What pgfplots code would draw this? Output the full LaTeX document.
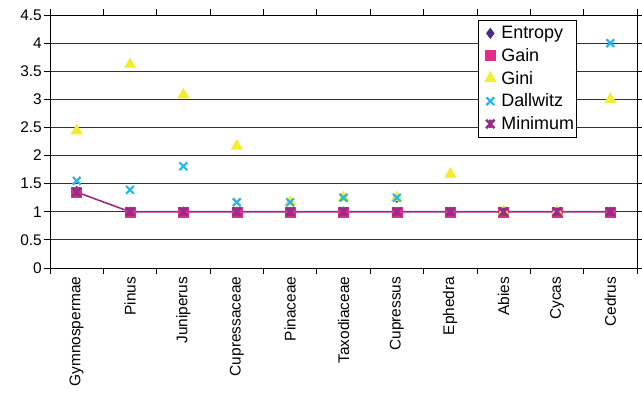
\documentclass[border=0pt]{standalone}
\usepackage{pgfplots}
\pgfplotsset{compat=1.18}
\usepackage{fontspec}
\setmainfont{Liberation Sans}
\usetikzlibrary{plotmarks}

\definecolor{cEntropy}{HTML}{4B2A8C}
\definecolor{cGain}{HTML}{E22D8B}
\definecolor{cGini}{HTML}{F5EC2C}
\definecolor{cDall}{HTML}{2BB5E8}
\definecolor{cMin}{HTML}{9A2B86}
\definecolor{cGrid}{HTML}{333333}

% star marker: a cross with a vertical bar through it
\pgfdeclareplotmark{xstar}{%
  \pgfpathmoveto{\pgfqpoint{-\pgfplotmarksize}{-\pgfplotmarksize}}%
  \pgfpathlineto{\pgfqpoint{\pgfplotmarksize}{\pgfplotmarksize}}%
  \pgfpathmoveto{\pgfqpoint{-\pgfplotmarksize}{\pgfplotmarksize}}%
  \pgfpathlineto{\pgfqpoint{\pgfplotmarksize}{-\pgfplotmarksize}}%
  \pgfpathmoveto{\pgfqpoint{0pt}{-\pgfplotmarksize}}%
  \pgfpathlineto{\pgfqpoint{0pt}{\pgfplotmarksize}}%
  \pgfusepathqstroke}

\begin{document}
\begin{tikzpicture}[x=1bp,y=1bp]
\useasboundingbox (0,0) rectangle (642,414);
\begin{axis}[
  at={(50bp,146bp)}, anchor=south west,
  scale only axis, width=587bp, height=253bp,
  xmin=-0.5, xmax=10.5, ymin=0, ymax=4.5,
  ytick={0,0.5,...,4.5},
  xtick={0,...,10},
  xticklabels={Gymnospermae,Pinus,Juniperus,Cupressaceae,Pinaceae,Taxodiaceae,Cupressus,Ephedra,Abies,Cycas,Cedrus},
  xticklabel style={rotate=90, anchor=east, font=\fontsize{15.5}{17}\selectfont, inner sep=2.5bp},
  yticklabel style={font=\fontsize{15.5}{17}\selectfont, inner sep=2bp},
  /pgf/number format/assume math mode=true,
  major x tick style={draw=none},
  minor xtick={-0.5,0.5,...,10.5},
  tick align=outside,
  major tick length=6bp, minor tick length=6bp,
  tick style={black, line width=0.8bp},
  ymajorgrids,
  major grid style={cGrid, line width=0.9bp},
  axis line style={black, line width=0.9bp},
  clip=false,
  legend cell align=left,
  legend style={at={(0.729,0.980)}, anchor=north west,
    draw=black, line width=0.8bp, fill=white,
    font=\fontsize{18}{19}\selectfont,
    row sep=4.25bp, inner sep=0.5bp, inner xsep=0bp, inner ysep=4bp},
  legend image code/.code={
    \path[draw=none, fill=none] (0bp,0bp) -- (21bp,0bp);
    \draw[#1] plot coordinates {(12bp,0bp)};},
]
\addplot[only marks, mark=diamond*, mark size=5bp, color=cEntropy, fill=cEntropy] coordinates {
 (0,1.37) (1,1) (2,1) (3,1) (4,1) (5,1) (6,1.25) (7,1) (8,1) (9,1) (10,1)};
\addlegendentry{Entropy}
\addplot[only marks, mark=square*, mark size=5bp, color=cGain, fill=cGain] coordinates {
 (0,1.35) (1,1) (2,1) (3,1) (4,1) (5,1) (6,1) (7,1) (8,1) (9,1) (10,1)};
\addlegendentry{Gain}
\addplot[only marks, mark=triangle*, mark size=6.5bp, color=cGini, fill=cGini] coordinates {
 (0,2.44) (1,3.62) (2,3.08) (3,2.17) (4,1.17) (5,1.25) (6,1.25) (7,1.67) (8,1) (9,1) (10,3)};
\addlegendentry{Gini}
\addplot[only marks, mark=x, mark size=5.5bp, color=cDall, line width=2.2bp] coordinates {
 (0,1.55) (1,1.39) (2,1.81) (3,1.17) (4,1.17) (5,1.25) (6,1.25) (7,1) (8,1) (9,1) (10,4)};
\addlegendentry{Dallwitz}
\addplot[mark=xstar, mark size=4.2bp, color=cMin, line width=1.6bp,
  mark options={line width=2.6bp}] coordinates {
 (0,1.35) (1,1) (2,1) (3,1) (4,1) (5,1) (6,1) (7,1) (8,1) (9,1) (10,1)};
\addlegendentry{Minimum}
\end{axis}
\end{tikzpicture}
\end{document}
